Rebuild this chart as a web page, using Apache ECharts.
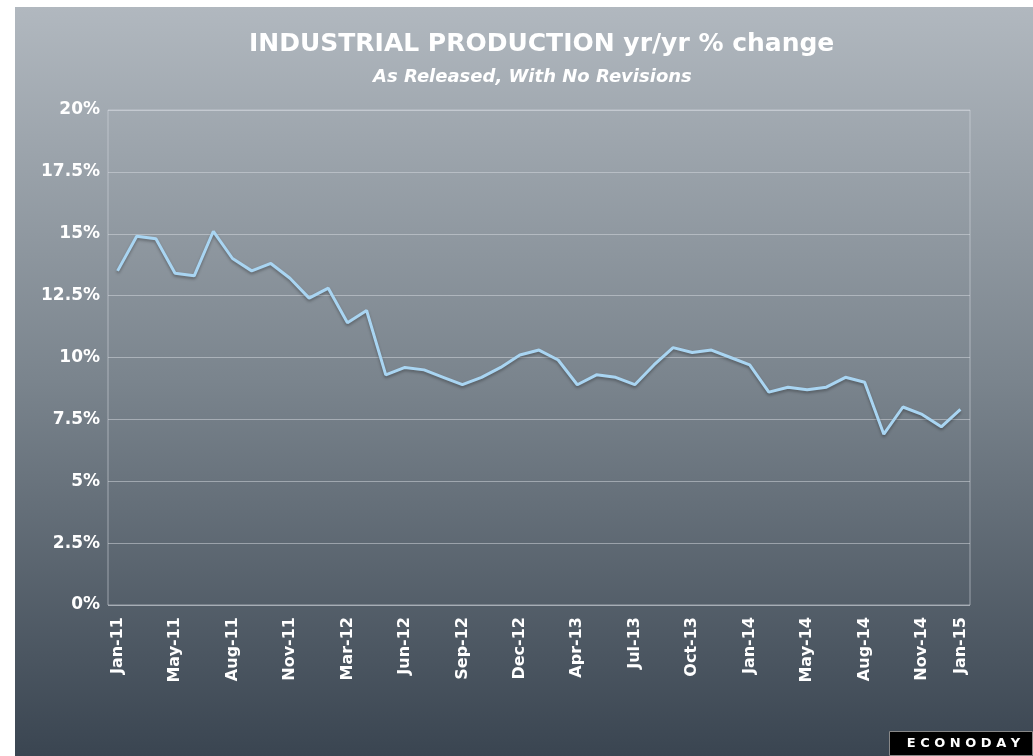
<!DOCTYPE html>
<html>
<head>
<meta charset="utf-8">
<script src="https://cdn.jsdelivr.net/npm/echarts@6/dist/echarts.min.js"></script>
<style>
  html, body { margin: 0; padding: 0; background: #fff; }
  #chart { position: absolute; left: 15px; top: 7px; width: 1018px; height: 749px; }
</style>
</head>
<body>
<div id="chart"></div>
<script>
const chart = echarts.init(document.getElementById('chart'))

// x categories (only every third one is labelled, plus the last)
const months = [
  'Jan-11', 'Mar-11', 'Apr-11', 'May-11', 'Jun-11', 'Jul-11', 'Aug-11', 'Sep-11', 'Oct-11', 'Nov-11',
  'Dec-11', 'Feb-12', 'Mar-12', 'Apr-12', 'May-12', 'Jun-12', 'Jul-12', 'Aug-12', 'Sep-12', 'Oct-12',
  'Nov-12', 'Dec-12', 'Feb-13', 'Mar-13', 'Apr-13', 'May-13', 'Jun-13', 'Jul-13', 'Aug-13', 'Sep-13',
  'Oct-13', 'Nov-13', 'Dec-13', 'Jan-14', 'Mar-14', 'Apr-14', 'May-14', 'Jun-14', 'Jul-14', 'Aug-14',
  'Sep-14', 'Oct-14', 'Nov-14', 'Dec-14', 'Jan-15',
]

// yr/yr % change, as released
const ipChange = [
  13.5, 14.9, 14.8, 13.4, 13.3, 15.1, 14.0, 13.5, 13.8, 13.2,
  12.4, 12.8, 11.4, 11.9, 9.3, 9.6, 9.5, 9.2, 8.9, 9.2,
  9.6, 10.1, 10.3, 9.9, 8.9, 9.3, 9.2, 8.9, 9.7, 10.4,
  10.2, 10.3, 10.0, 9.7, 8.6, 8.8, 8.7, 8.8, 9.2, 9.0,
  6.9, 8.0, 7.7, 7.2, 7.9,
]

const labelFont = 'DejaVu Sans'

const option = {
  backgroundColor: {
    type: 'linear', x: 0, y: 0, x2: 0, y2: 1,
    colorStops: [
      { offset: 0, color: '#b1b8bf' },
      { offset: 0.5, color: '#7a848d' },
      { offset: 1, color: '#3a4551' },
    ],
  },
  title: [
    {
      text: 'INDUSTRIAL PRODUCTION yr/yr % change',
      left: 234,
      top: 25,
      padding: 0,
      textStyle: { color: '#fff', fontFamily: labelFont, fontWeight: 'bold', fontSize: 25 },
    },
    {
      text: 'As Released, With No Revisions',
      left: 358,
      top: 61,
      padding: 0,
      textStyle: { color: '#fff', fontFamily: labelFont, fontWeight: 'bold', fontStyle: 'italic', fontSize: 18 },
    },
  ],
  grid: {
    left: 93,
    right: 63,
    top: 103,
    bottom: 151,
    show: true,
    borderColor: 'rgba(215,220,225,0.55)',
    borderWidth: 1,
  },
  xAxis: {
    type: 'category',
    data: months,
    boundaryGap: true,
    axisLine: { show: false },
    axisTick: { show: false },
    axisLabel: {
      rotate: 90,
      margin: 12,
      color: '#fff',
      fontFamily: labelFont,
      fontWeight: 'bold',
      fontSize: 16,
      interval: (i) => i % 3 === 0 || i === months.length - 1,
    },
  },
  yAxis: {
    type: 'value',
    min: 0,
    max: 20,
    interval: 2.5,
    axisLine: { show: false },
    axisTick: { show: false },
    splitLine: { lineStyle: { color: 'rgba(215,220,225,0.5)', width: 1 } },
    axisLabel: {
      margin: 8,
      color: '#fff',
      fontFamily: labelFont,
      fontWeight: 'bold',
      fontSize: 17,
      formatter: (v) => v + '%',
    },
  },
  series: [
    {
      name: 'Industrial production',
      type: 'line',
      data: ipChange,
      showSymbol: false,
      lineStyle: {
        color: '#a9d5f2',
        width: 3,
        shadowColor: 'rgba(0,0,0,0.3)',
        shadowBlur: 3,
        shadowOffsetY: 2,
      },
    },
  ],
  graphic: [
    {
      type: 'group',
      right: 0,
      bottom: 0,
      children: [
        { type: 'rect', shape: { x: 0, y: 0, width: 143, height: 24 }, style: { fill: '#000', stroke: '#888', lineWidth: 1 } },
        {
          type: 'text',
          x: 74, y: 12,
          style: {
            text: 'E C O N O D A Y',
            fill: '#fff',
            font: 'bold 13px "DejaVu Sans"',
            align: 'center',
            verticalAlign: 'middle',
          },
        },
      ],
    },
  ],
}

chart.setOption(option)
</script>
</body>
</html>
